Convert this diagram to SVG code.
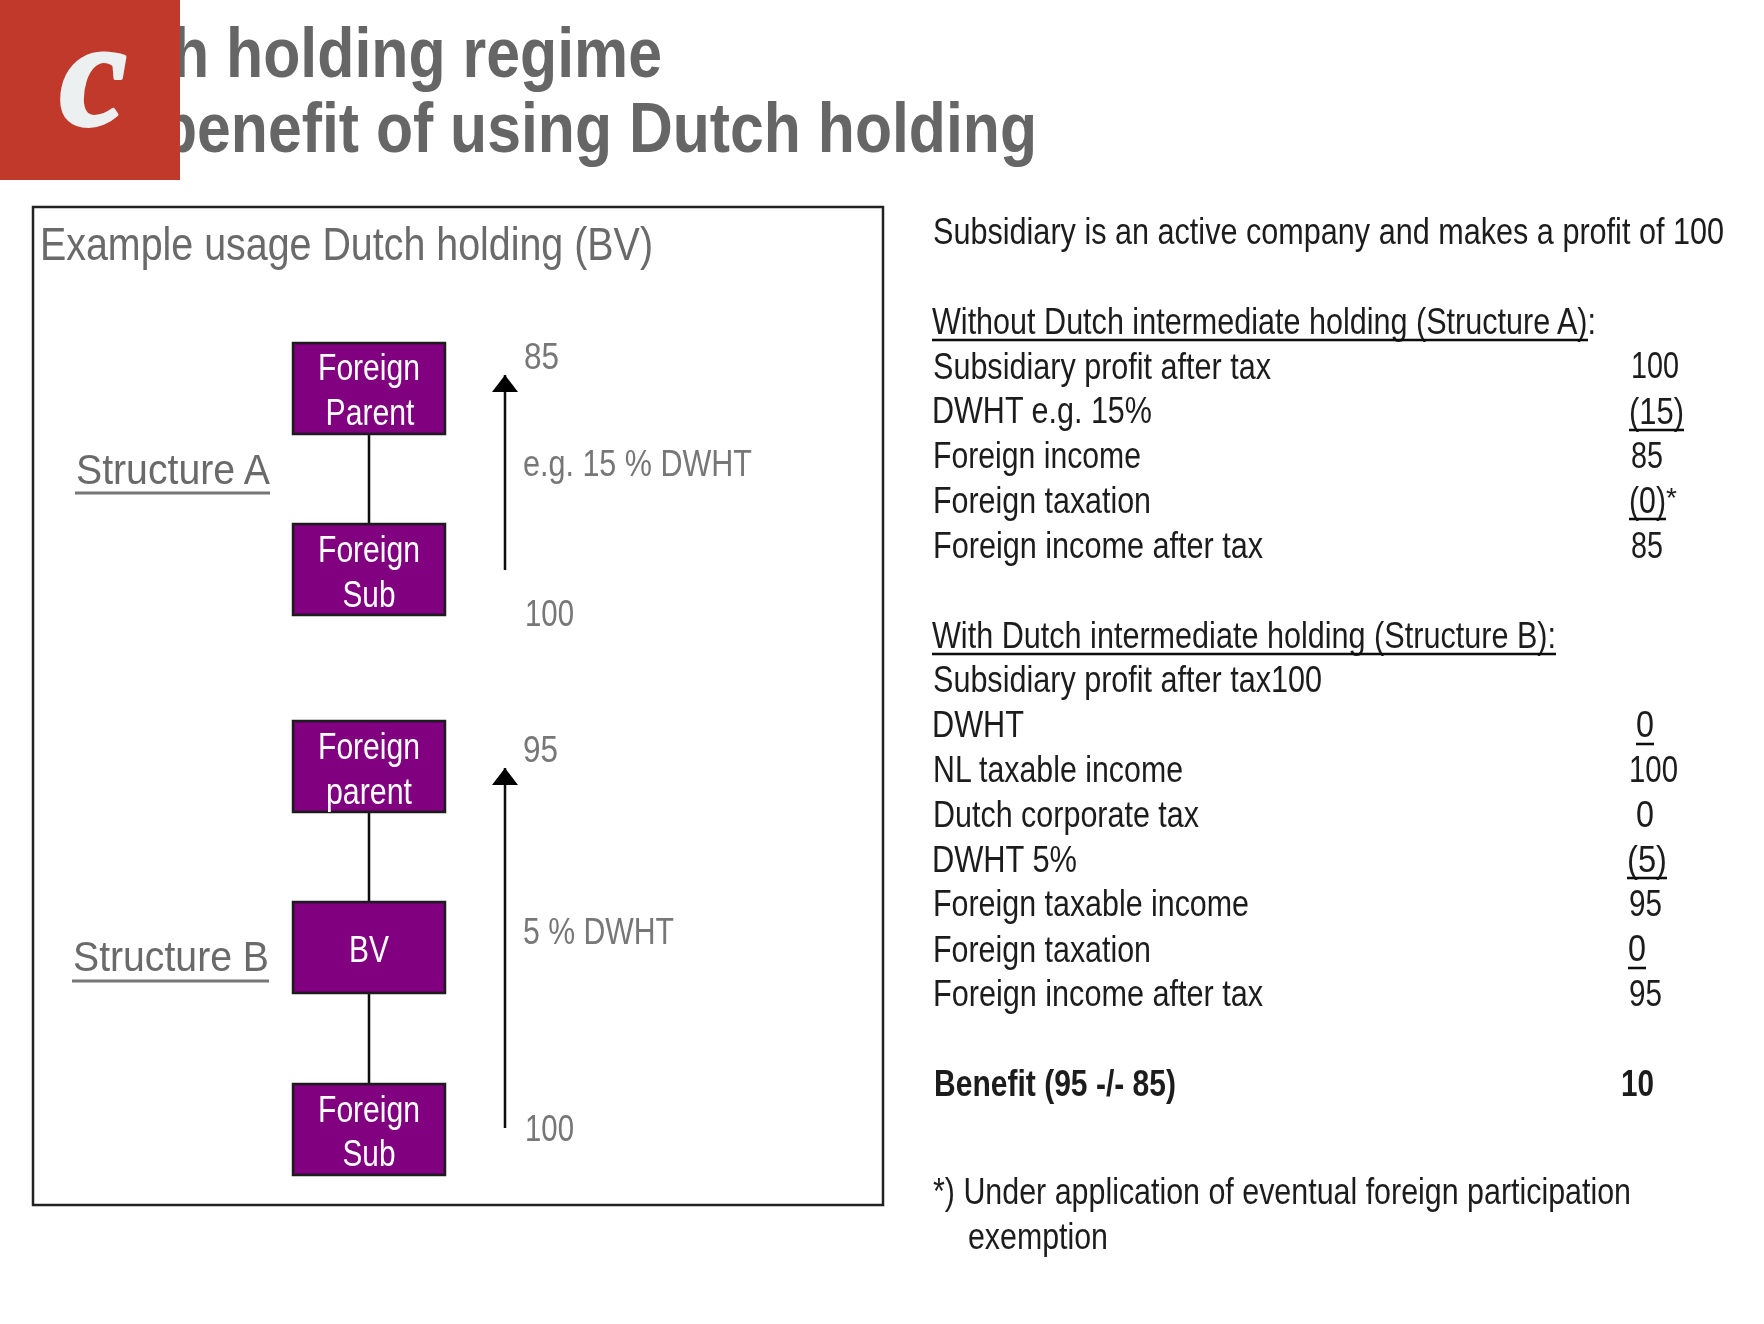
<svg xmlns="http://www.w3.org/2000/svg" width="1764" height="1324" viewBox="0 0 1764 1324">
<style>
text{font-family:"Liberation Sans",Arial,sans-serif}
.t{font-size:70px;font-weight:bold;fill:#666}
.g{font-size:37px;fill:#777}
.h{font-size:46px;fill:#6a6a6a}
.s{font-size:42px;fill:#6a6a6a}
.r{font-size:36px;fill:#1c1c1c}
.b{font-weight:bold}
.n rect{fill:#800080;stroke:#1a1a1a;stroke-width:2.5}
.n text{font-size:36px;fill:#fff;text-anchor:middle}
.c{stroke:#111;stroke-width:2.5;fill:none}
.ul{stroke:#111;stroke-width:2.5;fill:none}
.ug{stroke:#777;stroke-width:3;fill:none}
</style>
<defs>
<marker id="a" markerUnits="userSpaceOnUse" markerWidth="18" markerHeight="26" refX="17" refY="13" orient="auto"><path d="M0,0L17,13L0,26Z" fill="#000"/></marker>
<filter id="bl" x="-2%" y="-2%" width="104%" height="104%"><feGaussianBlur stdDeviation="0.6"/></filter>
</defs>
<rect width="1764" height="1324" fill="#fff"/>
<g filter="url(#bl)">
<g id="title">
<text class="t" x="172" y="77" textLength="490" lengthAdjust="spacingAndGlyphs">h holding regime</text>
<text class="t" x="160" y="152" textLength="877" lengthAdjust="spacingAndGlyphs">benefit of using Dutch holding</text>
</g>
<rect id="frame" x="33" y="207" width="850" height="998" fill="none" stroke="#222" stroke-width="2.5"/>
<text class="h" x="40" y="260" textLength="613" lengthAdjust="spacingAndGlyphs">Example usage Dutch holding (BV)</text>
<g id="connectors">
<path class="c" d="M369 434V524M369 812V902M369 993V1084"/>
<path class="c" d="M505 570V375" marker-end="url(#a)"/>
<path class="c" d="M505 1128V768" marker-end="url(#a)"/>
</g>
<g id="n1" class="n"><rect x="293" y="343" width="152" height="91"/><text x="369" y="380" textLength="102" lengthAdjust="spacingAndGlyphs">Foreign</text><text x="370" y="425" textLength="89" lengthAdjust="spacingAndGlyphs">Parent</text></g>
<g id="n2" class="n"><rect x="293" y="524" width="152" height="91"/><text x="369" y="562" textLength="102" lengthAdjust="spacingAndGlyphs">Foreign</text><text x="369" y="607" textLength="53" lengthAdjust="spacingAndGlyphs">Sub</text></g>
<g id="n3" class="n"><rect x="293" y="721" width="152" height="91"/><text x="369" y="759" textLength="102" lengthAdjust="spacingAndGlyphs">Foreign</text><text x="369" y="804" textLength="86" lengthAdjust="spacingAndGlyphs">parent</text></g>
<g id="n4" class="n"><rect x="293" y="902" width="152" height="91"/><text x="369" y="962" textLength="40" lengthAdjust="spacingAndGlyphs">BV</text></g>
<g id="n5" class="n"><rect x="293" y="1084" width="152" height="91"/><text x="369" y="1122" textLength="102" lengthAdjust="spacingAndGlyphs">Foreign</text><text x="369" y="1166" textLength="53" lengthAdjust="spacingAndGlyphs">Sub</text></g>
<g id="labels">
<text class="s" x="76" y="484" textLength="194" lengthAdjust="spacingAndGlyphs">Structure A</text>
<text class="s" x="73" y="971" textLength="196" lengthAdjust="spacingAndGlyphs">Structure B</text>
<path class="ug" d="M75 493H270M72 981H269"/>
<text class="g" x="524" y="369" textLength="35" lengthAdjust="spacingAndGlyphs">85</text>
<text class="g" x="523" y="476" textLength="229" lengthAdjust="spacingAndGlyphs">e.g. 15 % DWHT</text>
<text class="g" x="525" y="626" textLength="49" lengthAdjust="spacingAndGlyphs">100</text>
<text class="g" x="523" y="762" textLength="35" lengthAdjust="spacingAndGlyphs">95</text>
<text class="g" x="523" y="944" textLength="151" lengthAdjust="spacingAndGlyphs">5 % DWHT</text>
<text class="g" x="525" y="1141" textLength="49" lengthAdjust="spacingAndGlyphs">100</text>
</g>
<g id="notes">
<text class="r" x="933" y="244" textLength="791" lengthAdjust="spacingAndGlyphs">Subsidiary is an active company and makes a profit of 100</text>
<text class="r" x="932" y="334" textLength="664" lengthAdjust="spacingAndGlyphs">Without Dutch intermediate holding (Structure A):</text>
<text class="r" x="933" y="379" textLength="338" lengthAdjust="spacingAndGlyphs">Subsidiary profit after tax</text>
<text class="r" x="1631" y="378" textLength="48" lengthAdjust="spacingAndGlyphs">100</text>
<text class="r" x="932" y="423" textLength="220" lengthAdjust="spacingAndGlyphs">DWHT e.g. 15%</text>
<text class="r" x="1629" y="424" textLength="55" lengthAdjust="spacingAndGlyphs">(15)</text>
<text class="r" x="933" y="468" textLength="208" lengthAdjust="spacingAndGlyphs">Foreign income</text>
<text class="r" x="1631" y="468" textLength="32" lengthAdjust="spacingAndGlyphs">85</text>
<text class="r" x="933" y="513" textLength="218" lengthAdjust="spacingAndGlyphs">Foreign taxation</text>
<text class="r" x="1629" y="513" textLength="37" lengthAdjust="spacingAndGlyphs">(0)</text>
<text class="r" x="1666" y="507" style="font-size:28px">*</text>
<text class="r" x="933" y="558" textLength="330" lengthAdjust="spacingAndGlyphs">Foreign income after tax</text>
<text class="r" x="1631" y="558" textLength="32" lengthAdjust="spacingAndGlyphs">85</text>
<text class="r" x="932" y="648" textLength="624" lengthAdjust="spacingAndGlyphs">With Dutch intermediate holding (Structure B):</text>
<text class="r" x="933" y="692" textLength="389" lengthAdjust="spacingAndGlyphs">Subsidiary profit after tax100</text>
<text class="r" x="932" y="737" textLength="92" lengthAdjust="spacingAndGlyphs">DWHT</text>
<text class="r" x="1636" y="737" textLength="18" lengthAdjust="spacingAndGlyphs">0</text>
<text class="r" x="933" y="782" textLength="250" lengthAdjust="spacingAndGlyphs">NL taxable income</text>
<text class="r" x="1629" y="782" textLength="49" lengthAdjust="spacingAndGlyphs">100</text>
<text class="r" x="933" y="827" textLength="266" lengthAdjust="spacingAndGlyphs">Dutch corporate tax</text>
<text class="r" x="1636" y="827" textLength="18" lengthAdjust="spacingAndGlyphs">0</text>
<text class="r" x="932" y="872" textLength="145" lengthAdjust="spacingAndGlyphs">DWHT 5%</text>
<text class="r" x="1627" y="872" textLength="40" lengthAdjust="spacingAndGlyphs">(5)</text>
<text class="r" x="933" y="916" textLength="316" lengthAdjust="spacingAndGlyphs">Foreign taxable income</text>
<text class="r" x="1629" y="916" textLength="33" lengthAdjust="spacingAndGlyphs">95</text>
<text class="r" x="933" y="962" textLength="218" lengthAdjust="spacingAndGlyphs">Foreign taxation</text>
<text class="r" x="1628" y="961" textLength="18" lengthAdjust="spacingAndGlyphs">0</text>
<text class="r" x="933" y="1006" textLength="330" lengthAdjust="spacingAndGlyphs">Foreign income after tax</text>
<text class="r" x="1629" y="1006" textLength="33" lengthAdjust="spacingAndGlyphs">95</text>
<text class="r b" x="934" y="1096" textLength="242" lengthAdjust="spacingAndGlyphs">Benefit (95 -/- 85)</text>
<text class="r b" x="1621" y="1096" textLength="33" lengthAdjust="spacingAndGlyphs">10</text>
<text class="r" x="933" y="1204" textLength="698" lengthAdjust="spacingAndGlyphs">*) Under application of eventual foreign participation</text>
<text class="r" x="968" y="1249" textLength="140" lengthAdjust="spacingAndGlyphs">exemption</text>
<path class="ul" d="M932 340H1588M932 654H1556M1629 430H1684M1629 519H1666M1636 744H1654M1627 878H1667M1628 968H1646"/>
</g>
</g>
<g id="logo">
<rect width="180" height="180" fill="#c0392b"/>
<text x="60" y="125" style="font-family:'Liberation Serif',serif;font-size:150px;font-weight:bold;font-style:italic;fill:#ecf0f1;stroke:#ecf0f1;stroke-width:4;stroke-linejoin:round">c</text>
</g>
</svg>
